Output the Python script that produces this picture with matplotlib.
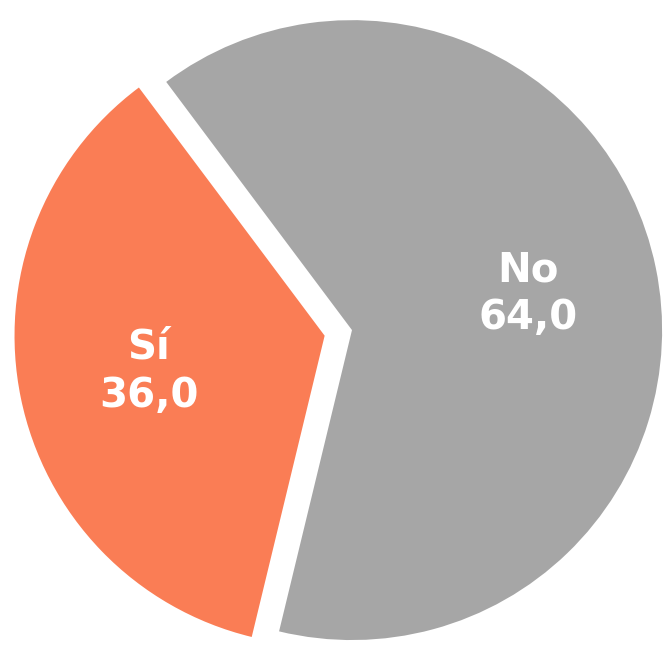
import matplotlib.pyplot as plt

# slice data
labels = ['No', 'Sí']
values = [64.0, 36.0]
colors = ['#A6A6A6', '#FA7D55']
explode = [0.0, 0.09]

fig = plt.figure(figsize=(6.68, 6.45), dpi=100)
ax = fig.add_axes([0, 0, 1, 1])

wedges, texts, autotexts = ax.pie(
    values, labels=None, colors=colors, explode=explode,
    startangle=-103.6, counterclock=True, radius=1.0,
    autopct='%1.1f', pctdistance=0.58,
    wedgeprops=dict(linewidth=0),
    textprops=dict(color='white', fontsize=29, fontweight='bold',
                   family='DejaVu Sans'))

for t, name, v in zip(autotexts, labels, values):
    t.set_text(f"{name}\n{v:.1f}".replace('.', ','))
    t.set_linespacing(1.25)

# crop like the original image (pie runs off the edges)
ax.set_xlim(-1.135, 1.019)
ax.set_ylim(-1.016, 1.065)
ax.set_aspect('auto')
ax.axis('off')

fig.savefig('out.png', dpi=100)
